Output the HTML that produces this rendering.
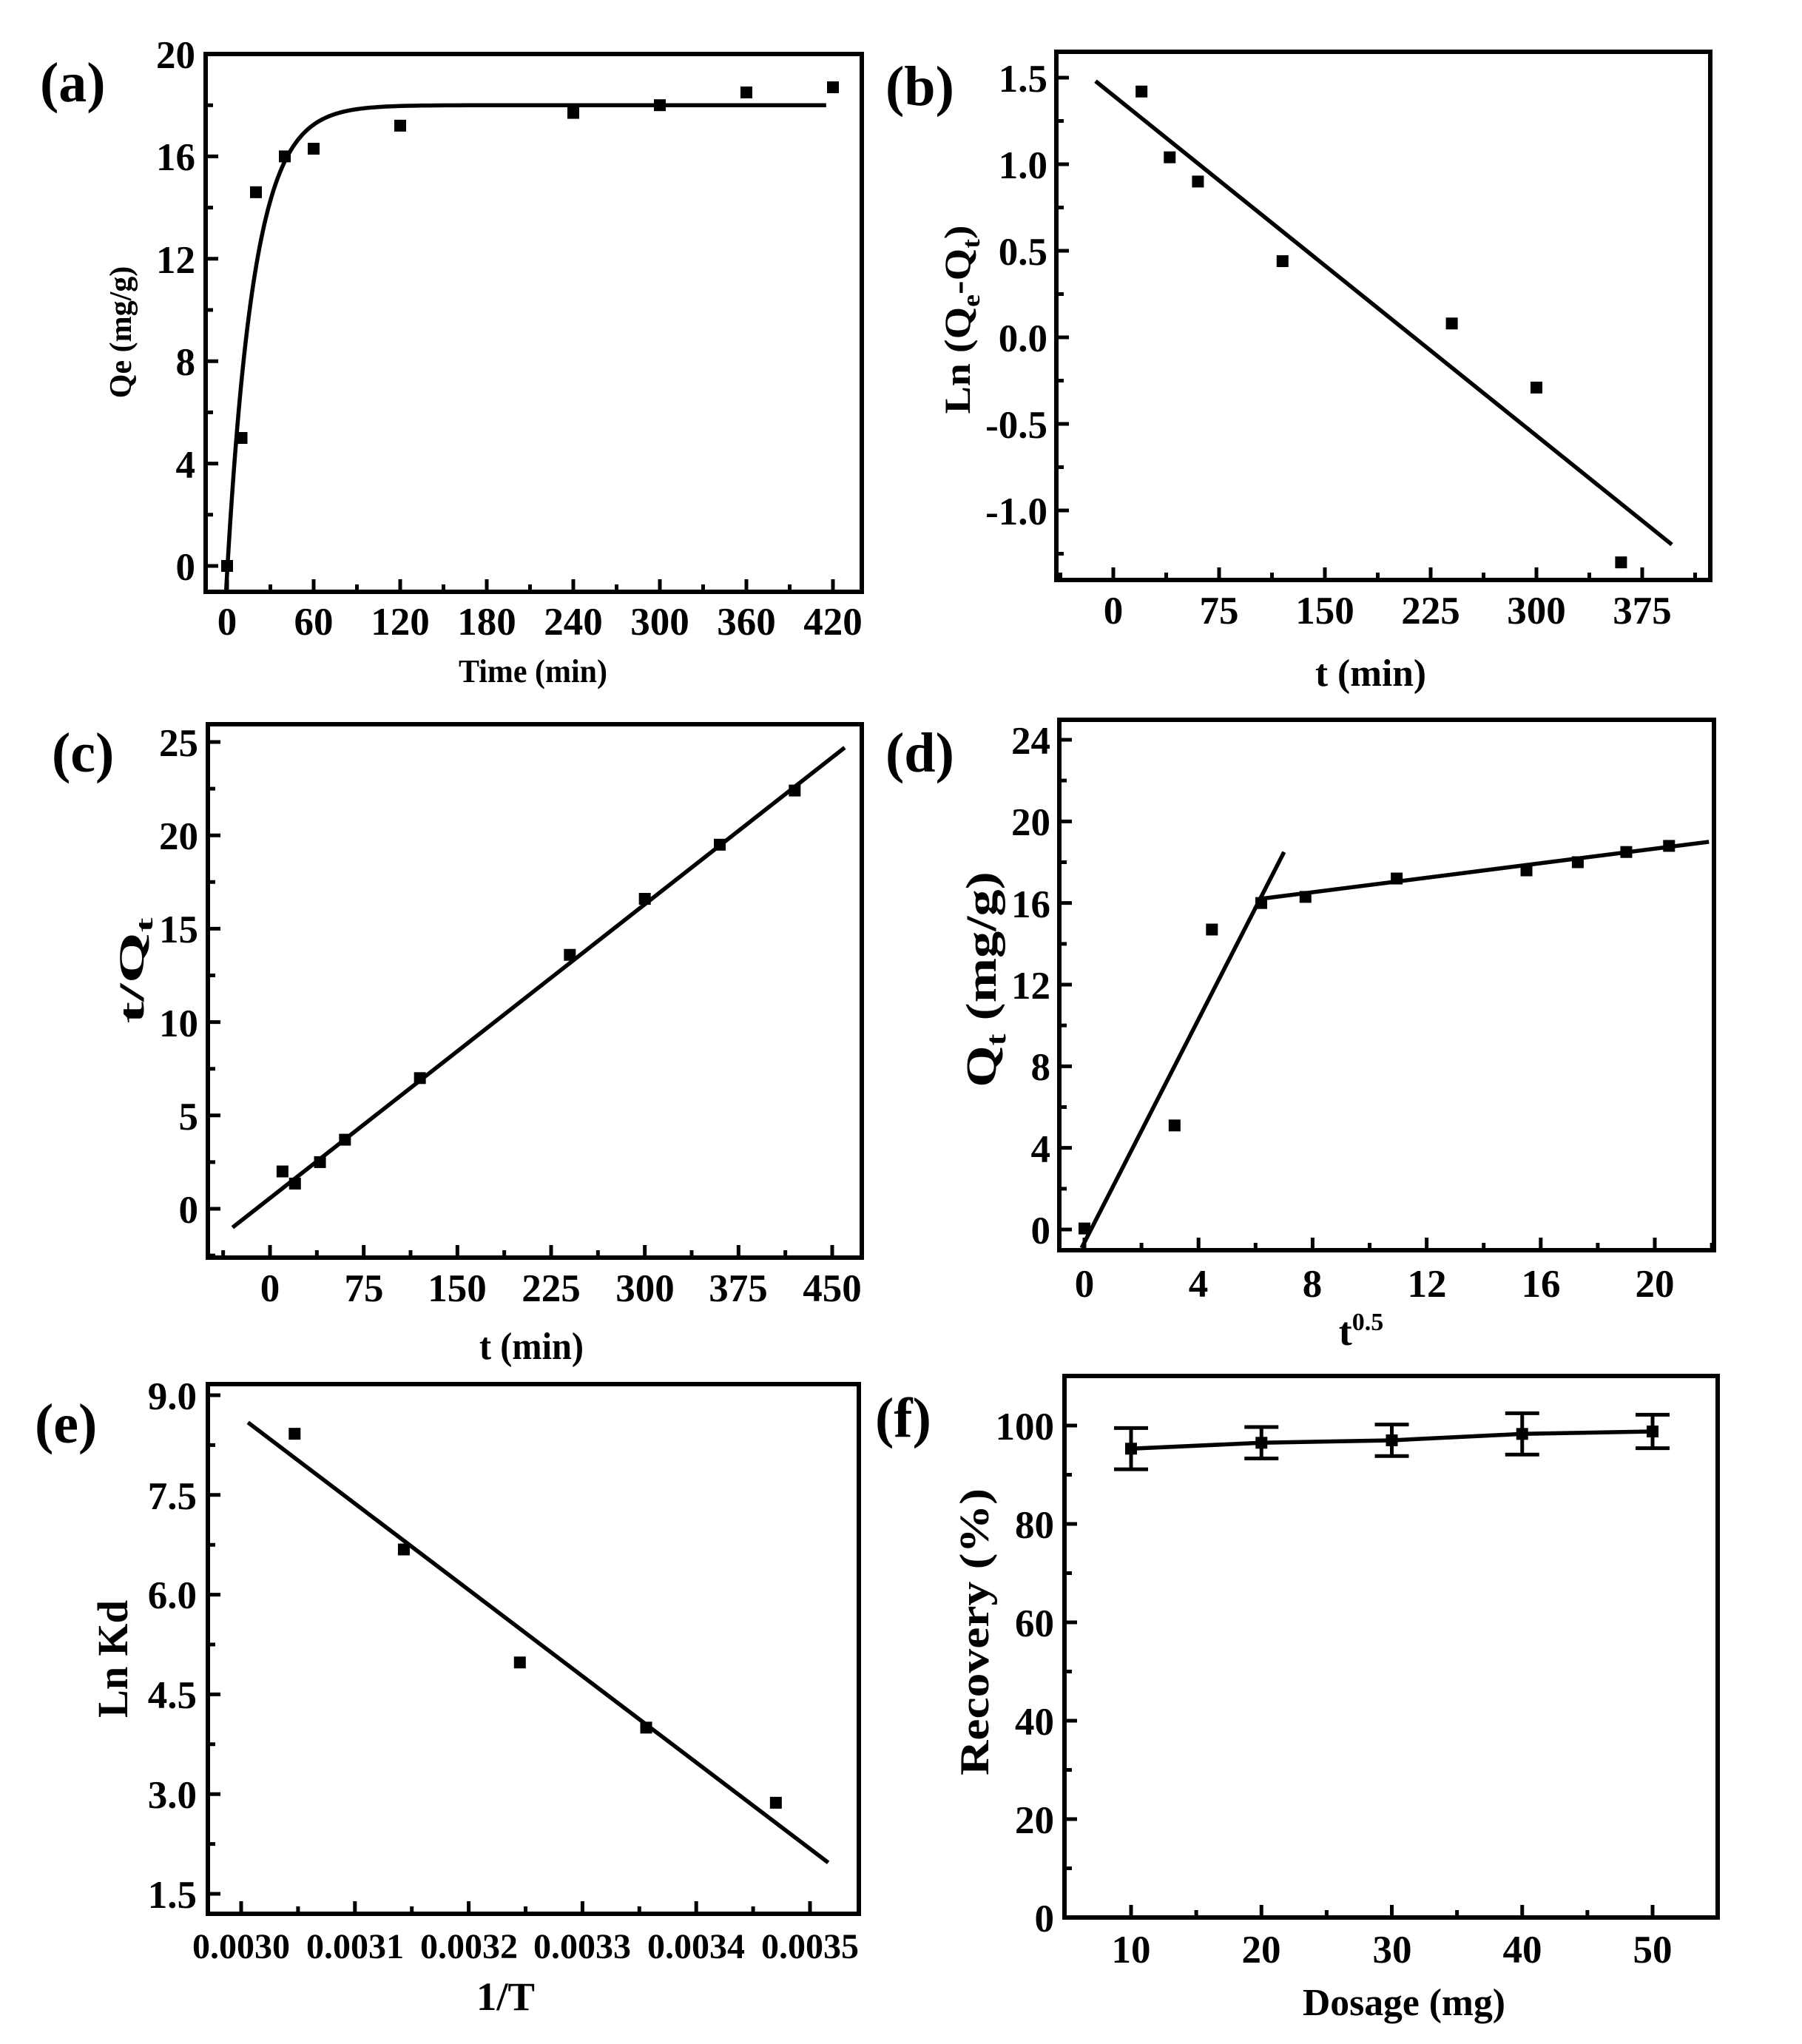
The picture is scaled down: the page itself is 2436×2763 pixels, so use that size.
<!DOCTYPE html>
<html><head><meta charset="utf-8"><style>
html,body{margin:0;padding:0;background:#fff;}
svg{display:block;}
text{font-family:"Liberation Serif",serif;font-weight:bold;fill:#000;}
.tk{font-size:53px;}
.tke{font-size:48px;}
.ti{font-size:46px;}
.pl{font-size:76px;}
</style></head><body>
<svg id="s" xmlns="http://www.w3.org/2000/svg" width="2436" height="2763" viewBox="0 0 2436 2763">
<rect width="2436" height="2763" fill="#fff"/>
<g id="g"></g>
<text class="pl" x="54" y="137">(a)</text>
<text class="pl" x="1197" y="142">(b)</text>
<text class="pl" x="70" y="1043">(c)</text>
<text class="pl" x="1197" y="1043">(d)</text>
<text class="pl" x="47" y="1950">(e)</text>
<text class="pl" x="1183" y="1942">(f)</text>
<!-- a -->
<g class="tk" text-anchor="end">
<text x="264" y="784">0</text><text x="264" y="646">4</text><text x="264" y="507">8</text><text x="264" y="369">12</text><text x="264" y="230">16</text><text x="264" y="92">20</text>
</g>
<g class="tk" text-anchor="middle">
<text x="307" y="858">0</text><text x="424" y="858">60</text><text x="541" y="858">120</text><text x="658" y="858">180</text><text x="775" y="858">240</text><text x="892" y="858">300</text><text x="1009" y="858">360</text><text x="1126" y="858">420</text>
</g>
<text x="620" y="922" textLength="201" lengthAdjust="spacingAndGlyphs" style="font-size:44px">Time (min)</text>
<text transform="translate(177,449) rotate(-90)" text-anchor="middle" style="font-size:42px">Qe (mg/g)</text>
<!-- b -->
<g class="tk" text-anchor="end">
<text x="1416" y="709">-1.0</text><text x="1416" y="592">-0.5</text><text x="1416" y="475">0.0</text><text x="1416" y="358">0.5</text><text x="1416" y="241">1.0</text><text x="1416" y="124">1.5</text>
</g>
<g class="tk" text-anchor="middle">
<text x="1505" y="843">0</text><text x="1648" y="843">75</text><text x="1791" y="843">150</text><text x="1934" y="843">225</text><text x="2077" y="843">300</text><text x="2220" y="843">375</text>
</g>
<text x="1778" y="927" textLength="150" lengthAdjust="spacingAndGlyphs" style="font-size:52px">t (min)</text>
<text transform="translate(1311,432) rotate(-90) scale(1.12,1)" text-anchor="middle" style="font-size:50px">Ln (Q<tspan dy="13" font-size="34">e</tspan><tspan dy="-13">-Q</tspan><tspan dy="13" font-size="34">t</tspan><tspan dy="-13">)</tspan></text>
<!-- c -->
<g class="tk" text-anchor="end">
<text x="268" y="1653">0</text><text x="268" y="1527">5</text><text x="268" y="1401">10</text><text x="268" y="1274">15</text><text x="268" y="1148">20</text><text x="268" y="1022">25</text>
</g>
<g class="tk" text-anchor="middle">
<text x="365" y="1759">0</text><text x="492" y="1759">75</text><text x="618" y="1759">150</text><text x="745" y="1759">225</text><text x="872" y="1759">300</text><text x="998" y="1759">375</text><text x="1125" y="1759">450</text>
</g>
<text x="648" y="1837" textLength="141" lengthAdjust="spacingAndGlyphs" style="font-size:52px">t (min)</text>
<text transform="translate(194,1312) rotate(-90) scale(1.85,1)" text-anchor="middle" style="font-size:48px">t/Q<tspan dy="12" font-size="32">t</tspan></text>
<!-- d -->
<g class="tk" text-anchor="end">
<text x="1420" y="1681">0</text><text x="1420" y="1571">4</text><text x="1420" y="1460">8</text><text x="1420" y="1350">12</text><text x="1420" y="1240">16</text><text x="1420" y="1129">20</text><text x="1420" y="1019">24</text>
</g>
<g class="tk" text-anchor="middle">
<text x="1466" y="1753">0</text><text x="1620" y="1753">4</text><text x="1774" y="1753">8</text><text x="1929" y="1753">12</text><text x="2083" y="1753">16</text><text x="2237" y="1753">20</text>
</g>
<text x="1840" y="1818" text-anchor="middle" style="font-size:54px">t<tspan dy="-20" font-size="34">0.5</tspan></text>
<text transform="translate(1346,1324) rotate(-90) scale(1.25,1)" text-anchor="middle" style="font-size:58px">Q<tspan dy="13" font-size="38">t</tspan><tspan dy="-13"> (mg/g)</tspan></text>
<!-- e -->
<g class="tk" text-anchor="end">
<text x="266" y="2579">1.5</text><text x="266" y="2444">3.0</text><text x="266" y="2309">4.5</text><text x="266" y="2174">6.0</text><text x="266" y="2040">7.5</text><text x="266" y="1905">9.0</text>
</g>
<g class="tke" text-anchor="middle">
<text x="326" y="2647">0.0030</text><text x="480" y="2647">0.0031</text><text x="634" y="2647">0.0032</text><text x="787" y="2647">0.0033</text><text x="941" y="2647">0.0034</text><text x="1095" y="2647">0.0035</text>
</g>
<text x="644" y="2717" textLength="79" lengthAdjust="spacingAndGlyphs" style="font-size:54px">1/T</text>
<text transform="translate(172,2242) rotate(-90)" x="-80" textLength="159" lengthAdjust="spacingAndGlyphs" style="font-size:58px">Ln Kd</text>
<!-- f -->
<g class="tk" text-anchor="end">
<text x="1425" y="2611">0</text><text x="1425" y="2478">20</text><text x="1425" y="2345">40</text><text x="1425" y="2212">60</text><text x="1425" y="2079">80</text><text x="1425" y="1946">100</text>
</g>
<g class="tk" text-anchor="middle">
<text x="1529" y="2653">10</text><text x="1705" y="2653">20</text><text x="1882" y="2653">30</text><text x="2058" y="2653">40</text><text x="2234" y="2653">50</text>
</g>
<text x="1761" y="2724" textLength="274" lengthAdjust="spacingAndGlyphs" style="font-size:52px">Dosage (mg)</text>
<text transform="translate(1336,2206) rotate(-90)" x="-194" textLength="388" lengthAdjust="spacingAndGlyphs" style="font-size:56px">Recovery (%)</text>
</svg>
<script>
(function(){
var g=document.getElementById('g'),NS='http://www.w3.org/2000/svg';
function el(t,a){var e=document.createElementNS(NS,t);for(var k in a)e.setAttribute(k,a[k]);g.appendChild(e);return e;}
function P(s){
 var fx=function(v){return s.x[1]+(v-s.x[0])*(s.x[3]-s.x[1])/(s.x[2]-s.x[0]);};
 var fy=function(v){return s.y[1]+(v-s.y[0])*(s.y[3]-s.y[1])/(s.y[2]-s.y[0]);};
 var L=s.f[0],R=s.f[1],T=s.f[2],B=s.f[3];
 var d='';
 s.xt.forEach(function(v){var x=fx(v);d+='M'+x+' '+B+'v-17';});
 s.xm.forEach(function(v){var x=fx(v);d+='M'+x+' '+B+'v-10';});
 s.yt.forEach(function(v){var y=fy(v);d+='M'+L+' '+y+'h17';});
 s.ym.forEach(function(v){var y=fy(v);d+='M'+L+' '+y+'h10';});
 el('path',{d:d,stroke:'#000','stroke-width':5,fill:'none'});
 el('rect',{x:L,y:T,width:R-L,height:B-T,fill:'none',stroke:'#000','stroke-width':6});
 (s.lines||[]).forEach(function(l){var pd='';for(var i=0;i<l.length;i++)pd+=(i?'L':'M')+fx(l[i][0])+' '+fy(l[i][1]);
  el('path',{d:pd,stroke:'#000','stroke-width':5.5,fill:'none'});});
 (s.err||[]).forEach(function(p){var x=fx(p[0]),y1=fy(p[1]+p[2]),y2=fy(p[1]-p[2]);
  el('path',{d:'M'+x+' '+y1+'V'+y2+'M'+(x-23)+' '+y1+'h46M'+(x-23)+' '+y2+'h46',stroke:'#000','stroke-width':5,fill:'none'});});
 (s.pts||[]).forEach(function(p){el('rect',{x:fx(p[0])-8,y:fy(p[1])-8,width:16,height:16,fill:'#000'});});
}
function rng(a,b,st){var r=[];for(var v=a;v<=b+1e-12;v+=st)r.push(v);return r;}
var curve=[];for(var t=-0.7;t<=420;t+=(t<100?0.5:5)){var q=18*(1-Math.exp(-0.053*(t-0.3)));if(q>=-1)curve.push([t,q]);}
P({f:[278,1165,73,800],x:[0,307,420,1126],y:[20,73,0,765],xt:rng(0,420,60),xm:rng(30,390,60),yt:rng(0,20,4),ym:rng(2,18,4),
 lines:[curve],pts:[[0,0],[10,5],[20,14.6],[40,16],[60,16.3],[120,17.2],[240,17.7],[300,18],[360,18.5],[420,18.7]]});
P({f:[1428,2312,70,784],x:[0,1505,375,2220],y:[1.5,105,-1,690],xt:rng(0,375,75),xm:rng(37.5,412.5,75).concat([-37.5]),yt:rng(-1,1.5,0.5),ym:rng(-1.25,1.25,0.5),
 lines:[[[-12.6,1.48],[396,-1.197]]],pts:[[20,1.42],[40,1.04],[60,0.9],[120,0.44],[240,0.08],[300,-0.29],[360,-1.3]]});
P({f:[281,1165,979,1700],x:[0,365,450,1125],y:[25,1003,0,1634],xt:rng(0,450,75),xm:rng(37.5,412.5,75).concat([-37.5]),yt:rng(0,25,5),ym:rng(2.5,22.5,5).concat([-2.5]),
 lines:[[[-30,-1],[460,24.7]]],pts:[[10,2],[20,1.35],[40,2.5],[60,3.7],[120,7],[240,13.6],[300,16.6],[360,19.5],[420,22.4]]});
P({f:[1432,2317,973,1690],x:[0,1466,20,2237],y:[24,1000,0,1662],xt:rng(0,20,4),xm:rng(2,22,4),yt:rng(0,24,4),ym:rng(2,22,4),
 lines:[[[-0.1,-0.9],[7.0,18.5]],[[6.15,16.2],[21.9,19.0]]],pts:[[0,0.05],[3.16,5.1],[4.47,14.7],[6.2,16.0],[7.75,16.3],[10.95,17.2],[15.5,17.6],[17.3,18.0],[19,18.5],[20.5,18.8]]});
P({f:[281,1161,1871,2587],x:[0.003,326,0.0035,1095],y:[9,1886,1.5,2560],xt:rng(0.003,0.0035,0.0001),xm:rng(0.00305,0.00345,0.0001),yt:rng(1.5,9,1.5),ym:rng(2.25,8.25,1.5),
 lines:[[[0.003006,8.59],[0.003516,1.97]]],pts:[[0.003047,8.42],[0.003143,6.68],[0.003245,4.98],[0.003356,4.0],[0.00347,2.87]]});
var fp=[[10,95.3,4.2],[20,96.5,3.2],[30,97,3.2],[40,98.3,4.2],[50,98.8,3.4]];
P({f:[1439,2322,1860,2592],x:[10,1529,50,2234],y:[100,1927,0,2592],xt:rng(10,50,10),xm:rng(15,45,10),yt:rng(0,100,20),ym:rng(10,90,20),
 lines:[fp.map(function(p){return [p[0],p[1]];})],err:fp,pts:fp});
})();
</script>
</body></html>
